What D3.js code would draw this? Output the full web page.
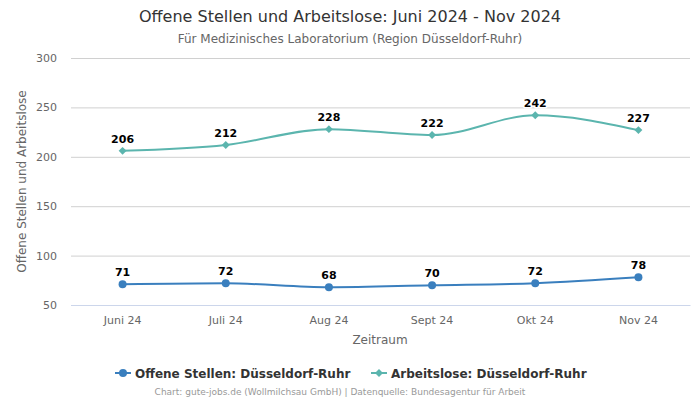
<!DOCTYPE html>
<html><head><meta charset="utf-8">
<script src="https://cdn.jsdelivr.net/npm/d3@7"></script>
<style>body{margin:0;background:#fff;} text{font-family:"DejaVu Sans",sans-serif;}</style>
</head><body>
<svg id="c" width="700" height="400"></svg>
<script>
const categories = ["Juni 24","Juli 24","Aug 24","Sept 24","Okt 24","Nov 24"];
const offeneStellen = [71,72,68,70,72,78];
const arbeitslose = [206,212,228,222,242,227];
const yTicks = [50,100,150,200,250,300];
const seriesNames = ["Offene Stellen: Düsseldorf-Ruhr","Arbeitslose: Düsseldorf-Ruhr"];
const colors = ["#3a7fbe","#5bb5ae"];

const svg = d3.select("#c");
const m = {l:71, r:690, t:58, b:305};
const x = d3.scaleBand().domain(categories).range([m.l,m.r]);
const y = d3.scaleLinear().domain([50,300]).range([m.b,m.t]);

svg.append("text").attr("x",350).attr("y",22).attr("text-anchor","middle")
  .attr("font-size",16).attr("fill","#333").text("Offene Stellen und Arbeitslose: Juni 2024 - Nov 2024");
svg.append("text").attr("x",350).attr("y",43).attr("text-anchor","middle")
  .attr("font-size",12).attr("fill","#666").text("Für Medizinisches Laboratorium (Region Düsseldorf-Ruhr)");

// grid
const yAxis = d3.axisLeft(y).tickValues(yTicks).tickSize(-(m.r-m.l)).tickPadding(14);
const gy = svg.append("g").attr("transform",`translate(${m.l},0)`).call(yAxis);
gy.select(".domain").remove();
gy.selectAll(".tick line").attr("stroke","#d0d0d0");
gy.selectAll(".tick text").attr("font-size",11).attr("fill","#666").attr("font-family","DejaVu Sans");
gy.selectAll(".tick").filter(d=>d===50).select("line").attr("stroke","#ccd6eb");

const xAxis = d3.axisBottom(x).tickSize(0).tickPadding(11);
const gx = svg.append("g").attr("transform",`translate(0,${m.b})`).call(xAxis);
gx.select(".domain").attr("stroke","#ccd6eb");
gx.selectAll(".tick text").attr("font-size",11).attr("fill","#666").attr("font-family","DejaVu Sans");

svg.append("text").attr("x",380).attr("y",344).attr("text-anchor","middle")
  .attr("font-size",12).attr("fill","#666").text("Zeitraum");
svg.append("text").attr("transform",`translate(26,${(m.t+m.b)/2}) rotate(-90)`).attr("text-anchor","middle")
  .attr("font-size",12).attr("fill","#666").text("Offene Stellen und Arbeitslose");

const cx = d=>x(d)+x.bandwidth()/2;
const line = d3.line().x((d,i)=>cx(categories[i])).y(d=>y(d)).curve(d3.curveMonotoneX);
const data = [offeneStellen, arbeitslose];
data.forEach((vals,si)=>{
  svg.append("path").datum(vals).attr("d",line).attr("fill","none")
    .attr("stroke",colors[si]).attr("stroke-width",2);
  vals.forEach((v,i)=>{
    if(si===0){
      svg.append("circle").attr("cx",cx(categories[i])).attr("cy",y(v)).attr("r",4).attr("fill",colors[si]);
    } else {
      svg.append("path").attr("d",d3.symbol(d3.symbolDiamond2,40)()).attr("transform",`translate(${cx(categories[i])},${y(v)})`).attr("fill",colors[si]);
    }
    svg.append("text").attr("x",cx(categories[i])).attr("y",y(v)-8).attr("text-anchor","middle")
      .attr("font-size",11).attr("font-weight","bold").attr("fill","#000")
      .attr("stroke","#fff").attr("stroke-width",3).attr("paint-order","stroke").attr("stroke-linejoin","round")
      .text(v);
  });
});

// legend
const lg = svg.append("g");
const items = [{x:115},{x:371}];
items.forEach((it,i)=>{
  lg.append("line").attr("x1",it.x).attr("x2",it.x+16).attr("y1",373).attr("y2",373).attr("stroke",colors[i]).attr("stroke-width",2);
  if(i===0) lg.append("circle").attr("cx",it.x+8).attr("cy",373).attr("r",4).attr("fill",colors[i]);
  else lg.append("path").attr("d",d3.symbol(d3.symbolDiamond2,40)()).attr("transform",`translate(${it.x+8},373)`).attr("fill",colors[i]);
  lg.append("text").attr("x",it.x+20).attr("y",377.5).attr("font-size",12).attr("font-weight","bold").attr("fill","#333").text(seriesNames[i]);
});
svg.append("text").attr("x",340).attr("y",395).attr("text-anchor","middle")
  .attr("font-size",9).attr("fill","#999").text("Chart: gute-jobs.de (Wollmilchsau GmbH) | Datenquelle: Bundesagentur für Arbeit");
</script>
</body></html>
